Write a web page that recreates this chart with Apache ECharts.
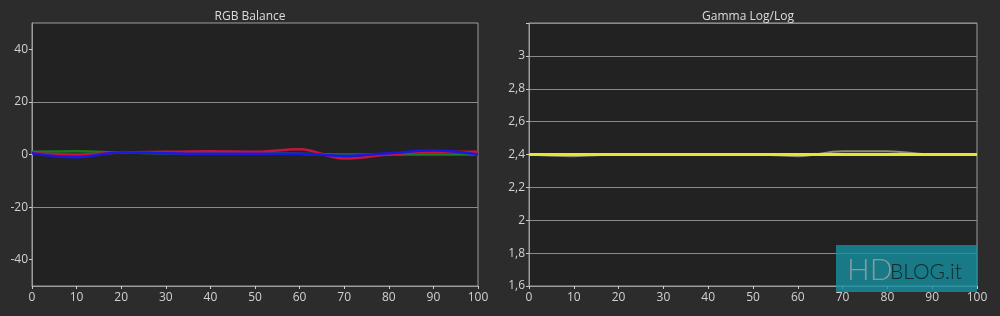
<!DOCTYPE html>
<html><head><meta charset="utf-8">
<script src="https://cdn.jsdelivr.net/npm/echarts@6/dist/echarts.min.js"></script>
<style>html,body{margin:0;padding:0;background:#2c2c2c;}#c{width:1000px;height:316px;}</style>
</head><body><div id="c"></div>
<script>
const xValues = [0,10,20,30,40,50,60,70,80,90,100];
const redBalance   = [0.5, 0.0, 0.8, 1.0, 1.2, 1.0, 2.0, -1.5, 0.0, 1.0, 1.0];
const greenBalance = [1.0, 1.2, 0.8, 0.5, 0.5, 0.5, 0.3, 0.0, 0.0, 0.0, 0.0];
const blueBalance  = [0.5, -1.0, 0.8, 0.5, 0.3, 0.3, 0.3, -0.5, 0.5, 1.5, 0.0];
const gammaTarget  = [2.4, 2.4, 2.4, 2.4, 2.4, 2.4, 2.4, 2.4, 2.4, 2.4, 2.4];
const gammaMeasured= [2.4, 2.39, 2.4, 2.4, 2.4, 2.4, 2.39, 2.42, 2.42, 2.4, 2.4];
const titles = ['RGB Balance', 'Gamma Log/Log'];

const pair = (ys) => xValues.map((x, i) => [x, ys[i]]);
const font = '"Open Sans", "Noto Sans", sans-serif';
const labelColor = '#d2d2d2';
const frameColor = '#9c9c9c';
const gridColor = '#8a8a8a';

const xAxisBase = (gi) => ({
  type: 'value', gridIndex: gi, min: 0, max: 100, interval: 10,
  axisLine: { show: true, onZero: false, lineStyle: { color: frameColor, width: 1 } },
  axisTick: { show: true, inside: false, length: 3, lineStyle: { color: '#cccccc' } },
  axisLabel: { color: labelColor, fontSize: 12, fontFamily: font, margin: 6 },
  splitLine: { show: false }
});

const chart = echarts.init(document.getElementById('c'), null, { renderer: 'canvas' });
chart.setOption({
  backgroundColor: '#2c2c2c',
  animation: false,
  title: [
    { text: titles[0], left: 245, top: 6, textAlign: 'center',
      textStyle: { color: '#dddddd', fontSize: 12, fontWeight: 'normal', fontFamily: font } },
    { text: titles[1], left: 743, top: 6, textAlign: 'center',
      textStyle: { color: '#dddddd', fontSize: 12, fontWeight: 'normal', fontFamily: font } }
  ],
  grid: [
    { left: 32, top: 23, width: 446, height: 263, show: true, backgroundColor: '#222222', borderColor: frameColor, borderWidth: 1 },
    { left: 529, top: 23, width: 448, height: 263, show: true, backgroundColor: '#222222', borderColor: frameColor, borderWidth: 1 }
  ],
  xAxis: [xAxisBase(0), xAxisBase(1)],
  yAxis: [
    { type: 'value', gridIndex: 0, min: -50, max: 50, interval: 10,
      axisLine: { show: true, onZero: false, lineStyle: { color: frameColor } },
      axisTick: { show: true, length: 3, customValues: [-40,-20,0,20,40], lineStyle: { color: '#cccccc' } },
      axisLabel: { color: labelColor, fontSize: 12, fontFamily: font, margin: 4,
        formatter: v => (Math.round(v) % 20 === 0 && Math.abs(v) < 50) ? String(Math.round(v)) : '' },
      splitLine: { show: true, lineStyle: { color: ['transparent', gridColor], width: 1 } } },
    { type: 'value', gridIndex: 1, min: 1.6, max: 3.2, interval: 0.2,
      axisLine: { show: true, onZero: false, lineStyle: { color: frameColor } },
      axisTick: { show: true, length: 3, lineStyle: { color: '#cccccc' } },
      axisLabel: { color: labelColor, fontSize: 12, fontFamily: font, margin: 4,
        formatter: v => { const r = Math.round(v * 10) / 10; return r >= 3.2 ? '' : String(r).replace('.', ','); } },
      splitLine: { show: true, lineStyle: { color: gridColor, width: 1 } } }
  ],
  series: [
    { type: 'line', xAxisIndex: 0, yAxisIndex: 0, data: pair(greenBalance), smooth: 0.4, showSymbol: false,
      lineStyle: { color: '#1c7a22', width: 2.5 } },
    { type: 'line', xAxisIndex: 0, yAxisIndex: 0, data: pair(redBalance), smooth: 0.4, showSymbol: false,
      lineStyle: { color: '#c8143c', width: 2.5 } },
    { type: 'line', xAxisIndex: 0, yAxisIndex: 0, data: pair(blueBalance), smooth: 0.4, showSymbol: false,
      lineStyle: { color: '#1818e0', width: 2.5 } },
    { type: 'line', xAxisIndex: 1, yAxisIndex: 1, data: pair(gammaMeasured), smooth: 0.4, showSymbol: false,
      lineStyle: { color: '#8e8e78', width: 2 } },
    { type: 'line', xAxisIndex: 1, yAxisIndex: 1, data: pair(gammaTarget), showSymbol: false,
      lineStyle: { color: '#e6e62a', width: 3 } }
  ],
  graphic: [
    { type: 'rect', left: 836, top: 245, z: 100,
      shape: { width: 141, height: 47 },
      style: { fill: 'rgba(22,145,160,0.8)' } },
    { type: 'text', left: 847, top: 255, z: 101,
      style: { text: 'HD', fill: '#8b9c9e', font: '300 30px Lato, "DejaVu Sans", sans-serif' } },
    { type: 'text', left: 890, top: 262, z: 101,
      style: { text: 'BLOG.it', fill: '#17262a', font: '300 21px Lato, "DejaVu Sans", sans-serif' } }
  ]
});
</script></body></html>
